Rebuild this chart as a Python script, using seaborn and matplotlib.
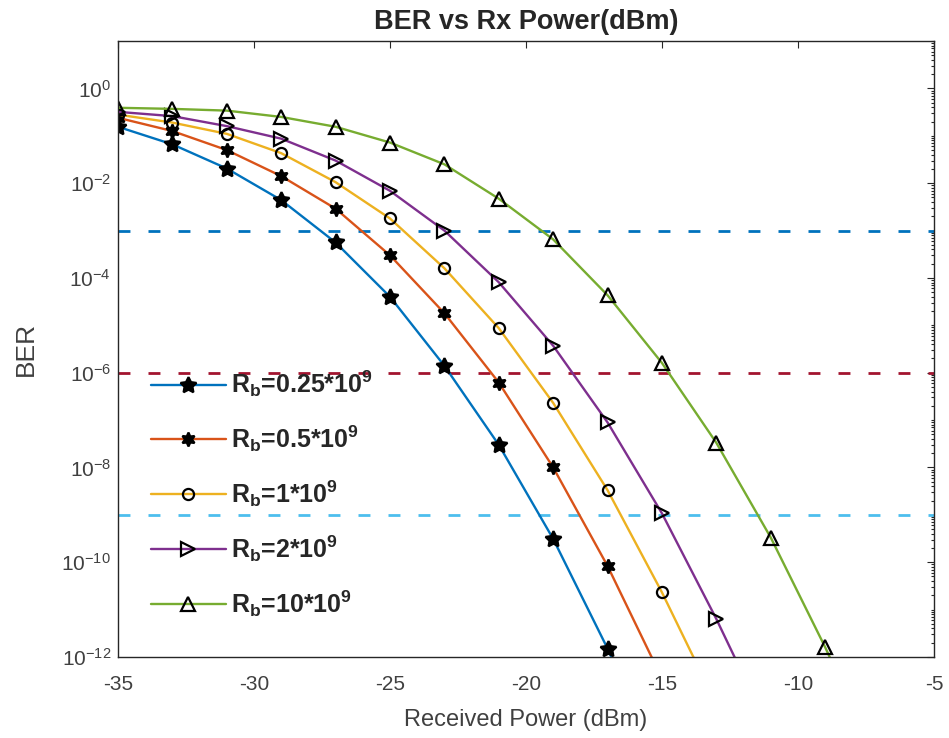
import matplotlib
matplotlib.use("Agg")
import matplotlib.pyplot as plt
import matplotlib.ticker as mticker
import seaborn as sns

# received power grid (dBm), markers every 2 dB
power_dbm = [-35, -33, -31, -29, -27, -25, -23, -21, -19, -17, -15, -13, -11, -9, -7]

# BER, one list per bit rate
ber_rb_025 = [0.155, 0.066, 0.0204, 4.4e-3, 5.6e-4, 4.0e-5, 1.4e-6, 3.0e-8, 3.1e-10, 1.5e-12, 4e-15]
ber_rb_05 = [0.24, 0.126, 0.050, 0.0141, 2.9e-3, 3.0e-4, 1.8e-5, 6.2e-7, 1.0e-8, 8.3e-11, 3.5e-13]
ber_rb_1 = [0.28, 0.19, 0.11, 0.043, 0.0105, 1.8e-3, 1.6e-4, 8.7e-6, 2.3e-7, 3.3e-9, 2.3e-11, 1.0e-13]
ber_rb_2 = [0.32, 0.26, 0.16, 0.087, 0.030, 6.9e-3, 1.0e-3, 8.1e-5, 3.7e-6, 8.9e-8, 1.07e-9, 6.3e-12, 2.5e-14]
ber_rb_10 = [0.39, 0.37, 0.34, 0.25, 0.155, 0.072, 0.025, 4.7e-3, 6.5e-4, 4.3e-5, 1.6e-6, 3.3e-8, 3.3e-10, 1.6e-12, 5e-15]

series_labels = [
    r"$\mathbf{R_b}$=0.25*10$^{\mathbf{9}}$",
    r"$\mathbf{R_b}$=0.5*10$^{\mathbf{9}}$",
    r"$\mathbf{R_b}$=1*10$^{\mathbf{9}}$",
    r"$\mathbf{R_b}$=2*10$^{\mathbf{9}}$",
    r"$\mathbf{R_b}$=10*10$^{\mathbf{9}}$",
]
series_colors = ["#0072BD", "#D95319", "#EDB120", "#7E2F8E", "#77AC30"]

# BER limits drawn as dashed reference lines
ber_limits = [1e-3, 1e-6, 1e-9]
limit_colors = ["#0072BD", "#A2142F", "#4DBEEE"]

ytick_values = [1e-12, 1e-10, 1e-8, 1e-6, 1e-4, 1e-2, 1e0]
xtick_values = [-35, -30, -25, -20, -15, -10, -5]

sns.set_style("white")
plt.rcParams["font.family"] = ["Liberation Sans", "DejaVu Sans"]
plt.rcParams["axes.unicode_minus"] = False
plt.rcParams["mathtext.fontset"] = "custom"
plt.rcParams["mathtext.rm"] = "Liberation Sans"
plt.rcParams["mathtext.bf"] = "Liberation Sans:bold"
plt.rcParams["mathtext.it"] = "Liberation Sans:italic"

fig = plt.figure(figsize=(9.49, 7.38), dpi=100)
ax = fig.add_axes([0.1243, 0.1098, 0.8599, 0.8346])

all_ber = [ber_rb_025, ber_rb_05, ber_rb_1, ber_rb_2, ber_rb_10]
marker_styles = [
    dict(marker=(5, 1, 0), markersize=12, markerfacecolor="black"),
    dict(marker=(6, 1, 0), markersize=10, markerfacecolor="black"),
    dict(marker="o", markersize=8, markerfacecolor="none"),
    dict(marker=">", markersize=10, markerfacecolor="none"),
    dict(marker="^", markersize=10, markerfacecolor="none"),
]

for ber, label, color, mstyle in zip(all_ber, series_labels, series_colors, marker_styles):
    sns.lineplot(
        x=power_dbm[: len(ber)],
        y=ber,
        ax=ax,
        color=color,
        linewidth=1.7,
        markeredgecolor="black",
        markeredgewidth=1.6,
        label=label,
        **mstyle,
    )

for level, color in zip(ber_limits, limit_colors):
    ax.axhline(level, color=color, linewidth=2.0, linestyle=(0, (4.3, 6.5)), zorder=1)

ax.set_yscale("log")
ax.set_xlim(-35, -5)
ax.set_ylim(1e-12, 1e1)
ax.xaxis.set_major_locator(mticker.FixedLocator(xtick_values))
ax.yaxis.set_major_locator(mticker.FixedLocator(ytick_values))
ax.yaxis.set_major_formatter(mticker.LogFormatterSciNotation())
ax.yaxis.set_minor_locator(mticker.LogLocator(base=10, subs=range(1, 10), numticks=100))
ax.yaxis.set_minor_formatter(mticker.NullFormatter())

ax.tick_params(which="both", direction="in", top=True, right=True, colors="#262626",
               labelcolor="#404040", labelsize=15, width=0.8)
ax.tick_params(which="major", length=5)
ax.tick_params(which="minor", length=2.5)
ax.tick_params(axis="x", which="major", pad=13)
ax.tick_params(axis="y", which="major", pad=5)
for spine in ax.spines.values():
    spine.set_color("#262626")
    spine.set_linewidth(1.0)

ax.set_title("BER vs Rx Power(dBm)", fontsize=19.5, fontweight="bold", pad=9)
ax.set_xlabel("Received Power (dBm)", fontsize=17, color="#404040", labelpad=11)
ax.set_ylabel("BER", fontsize=19, color="#404040", labelpad=17)

ax.legend(
    loc="upper left",
    bbox_to_anchor=(0.025, 0.488),
    frameon=False,
    borderpad=0,
    handlelength=3.0,
    handletextpad=0.2,
    labelspacing=0.97,
    prop={"size": 18, "weight": "bold"},
)

plt.savefig("out.png", dpi=100)
plt.close()
